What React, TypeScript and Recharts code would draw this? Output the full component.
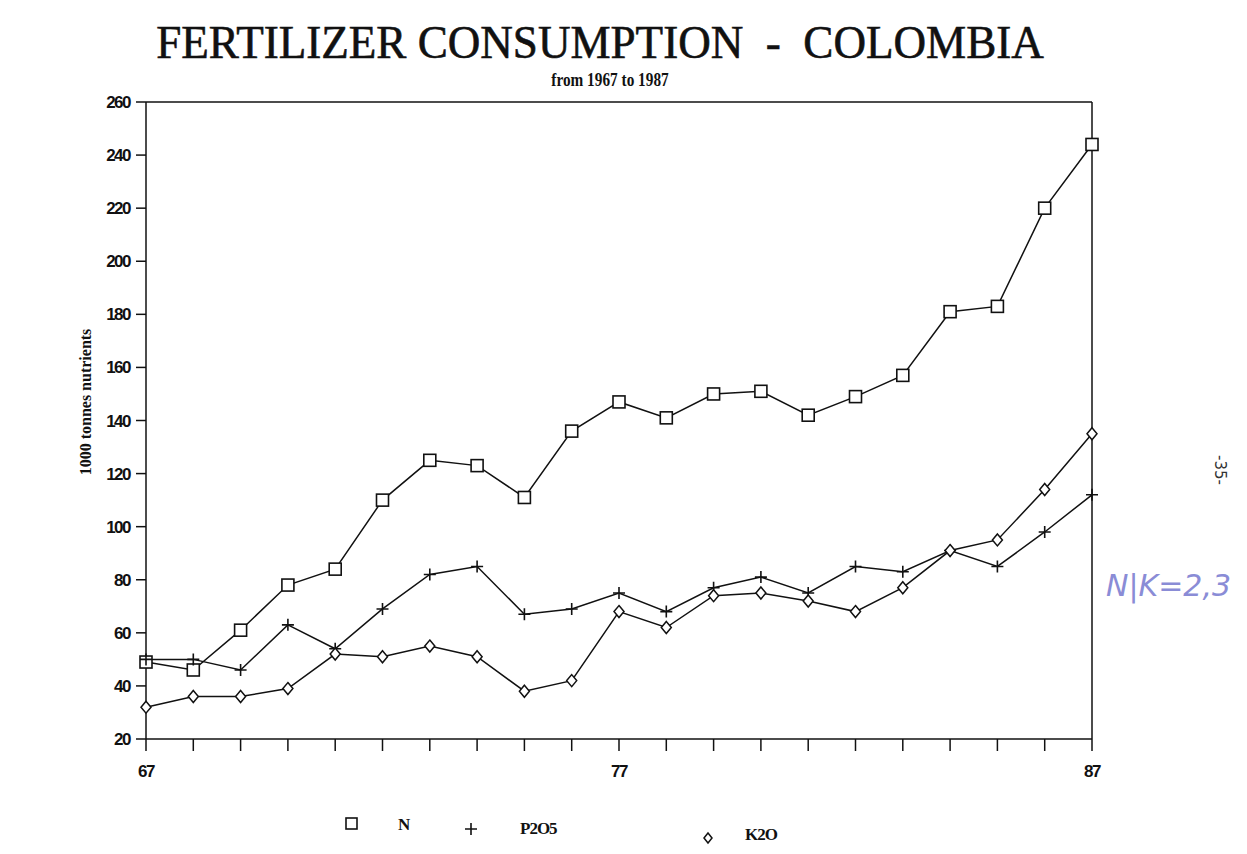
import { Line, LineChart, ReferenceLine, XAxis, YAxis } from "recharts";

// years 1967..1987, shown on the axis as two digits
const years = [67, 68, 69, 70, 71, 72, 73, 74, 75, 76, 77, 78, 79, 80, 81, 82, 83, 84, 85, 86, 87];
// 1000 tonnes nutrients
const nValues = [49, 46, 61, 78, 84, 110, 125, 123, 111, 136, 147, 141, 150, 151, 142, 149, 157, 181, 183, 220, 244];
const p2o5Values = [50, 50, 46, 63, 54, 69, 82, 85, 67, 69, 75, 68, 77, 81, 75, 85, 83, 91, 85, 98, 112];
const k2oValues = [32, 36, 36, 39, 52, 51, 55, 51, 38, 42, 68, 62, 74, 75, 72, 68, 77, 91, 95, 114, 135];
const yTicks = [20, 40, 60, 80, 100, 120, 140, 160, 180, 200, 220, 240, 260];
const xLabels = [67, 77, 87];

const data = years.map((year, i) => ({
  year,
  N: nValues[i],
  P2O5: p2o5Values[i],
  K2O: k2oValues[i],
}));

const ink = "#111";
const serif = "'Liberation Serif', 'DejaVu Serif', serif";
const tickFont = { fontFamily: "'Liberation Sans', sans-serif", fontWeight: 700, fontSize: 17, fill: ink, letterSpacing: -1.5 };

const squareDot = (p: any) => (
  <rect key={`n-${p.index}`} x={p.cx - 6} y={p.cy - 6} width={12} height={12} fill="#fff" stroke={ink} strokeWidth={1.6} />
);
const plusDot = (p: any) => (
  <path key={`p-${p.index}`} d={`M${p.cx - 6},${p.cy}H${p.cx + 6}M${p.cx},${p.cy - 6}V${p.cy + 6}`} stroke={ink} strokeWidth={1.6} fill="none" />
);
const diamondDot = (p: any) => (
  <path key={`k-${p.index}`} d={`M${p.cx},${p.cy - 6}L${p.cx + 5},${p.cy}L${p.cx},${p.cy + 6}L${p.cx - 5},${p.cy}Z`} fill="#fff" stroke={ink} strokeWidth={1.5} />
);

export default function App() {
  return (
    <div style={{ position: "relative", width: 1231, height: 838, background: "#fff" }}>
      <div
        style={{
          position: "absolute", left: 592, top: 8, transform: "translateX(-50%) scaleX(0.98)",
          whiteSpace: "nowrap", fontFamily: serif, fontSize: 46, color: ink, WebkitTextStroke: "0.6px #111",
        }}
      >
        FERTILIZER CONSUMPTION &nbsp;- &nbsp;COLOMBIA
      </div>
      <div
        style={{
          position: "absolute", left: 602, top: 62, transform: "translateX(-50%) scaleX(0.85)",
          whiteSpace: "nowrap", fontFamily: serif, fontWeight: 700, fontSize: 18, color: ink,
        }}
      >
        from 1967 to 1987
      </div>
      <div
        style={{
          position: "absolute", left: 78, top: 394, transform: "translate(-50%, -50%) rotate(-90deg)",
          whiteSpace: "nowrap", fontFamily: serif, fontWeight: 700, fontSize: 16, color: ink,
        }}
      >
        1000 tonnes nutrients
      </div>

      <LineChart width={1231} height={838} data={data} margin={{ top: 94, right: 147, bottom: 67, left: 88 }}>
        <XAxis
          dataKey="year" type="number" domain={[67, 87]} ticks={years} interval={0}
          tickFormatter={(v: number) => (xLabels.includes(v) ? String(v) : "")}
          tickSize={12} tickMargin={14} height={40} stroke={ink} strokeWidth={1.5} tick={tickFont}
        />
        <YAxis
          type="number" domain={[20, 260]} ticks={yTicks} interval={0} width={50}
          tickSize={10} tickMargin={6} stroke={ink} strokeWidth={1.5} tick={tickFont}
        />
        <ReferenceLine y={260} stroke={ink} strokeWidth={1.5} />
        <ReferenceLine x={87} stroke={ink} strokeWidth={1.5} />
        <Line dataKey="N" type="linear" stroke={ink} strokeWidth={1.5} dot={squareDot} isAnimationActive={false} />
        <Line dataKey="P2O5" type="linear" stroke={ink} strokeWidth={1.5} dot={plusDot} isAnimationActive={false} />
        <Line dataKey="K2O" type="linear" stroke={ink} strokeWidth={1.5} dot={diamondDot} isAnimationActive={false} />
      </LineChart>

      {/* legend */}
      <svg style={{ position: "absolute", left: 0, top: 794 }} width={1231} height={44}>
        <rect x={338} y={16} width={11} height={11} fill="#fff" stroke={ink} strokeWidth={1.6} />
        <text x={390} y={28} fontFamily={serif} fontWeight={700} fontSize={17} fill={ink}>N</text>
        <path d="M457,27H469M463,21V33" stroke={ink} strokeWidth={1.6} />
        <text x={512} y={32} fontFamily={serif} fontWeight={700} fontSize={17} fill={ink} letterSpacing={-1}>P2O5</text>
        <path d="M700,31L704,36L700,41L696,36Z" fill="#fff" stroke={ink} strokeWidth={1.5} />
        <text x={737} y={38} fontFamily={serif} fontWeight={700} fontSize={17} fill={ink} letterSpacing={-1}>K2O</text>
      </svg>

      <div
        style={{
          position: "absolute", left: 1212, top: 462, transform: "translate(-50%, -50%) rotate(90deg)",
          fontFamily: "'DejaVu Sans', sans-serif", fontSize: 15, color: "#333",
        }}
      >
        -35-
      </div>
      <div
        style={{
          position: "absolute", left: 1098, top: 560, fontFamily: "'DejaVu Sans', sans-serif",
          fontStyle: "italic", fontSize: 30, color: "#8a8cd6", whiteSpace: "nowrap", fontWeight: 200,
        }}
      >
        N|K=2,3
      </div>
    </div>
  );
}
